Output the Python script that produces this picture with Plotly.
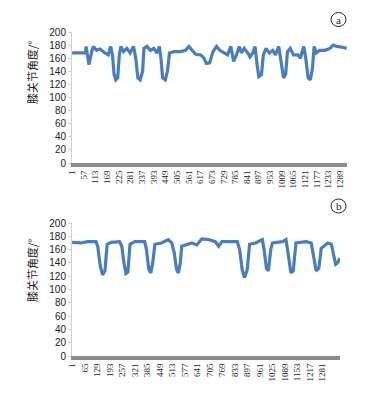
import plotly.graph_objects as go

# ---- data ----
a_x = [1, 65, 68, 82, 95, 103, 119, 135, 159, 175, 186, 195, 203, 211, 220, 228, 235, 248, 264, 280,
       296, 307, 317, 328, 340, 346, 361, 377, 393, 409, 420, 428, 436, 449, 459, 469, 490, 522, 546, 562,
       578, 595, 619, 635, 646, 662, 678, 695, 711, 732, 748, 764, 777, 791, 804, 815, 828, 845, 856, 869,
       880, 890, 898, 911, 920, 933, 949, 965, 978, 994, 1006, 1017, 1027, 1036, 1049, 1065, 1086, 1098,
       1114, 1124, 1135, 1146, 1156, 1164, 1175, 1191, 1215, 1240, 1256, 1272, 1296, 1320]
a_y = [168, 168, 178, 150, 170, 178, 172, 174, 168, 165, 178, 165, 135, 127, 130, 165, 178, 170, 175, 168,
       178, 160, 130, 127, 140, 175, 178, 172, 175, 168, 178, 160, 130, 127, 140, 168, 170, 170, 172, 178,
       172, 166, 165, 160, 152, 153, 170, 178, 172, 168, 165, 178, 155, 165, 178, 168, 175, 168, 162, 168,
       178, 150, 132, 135, 165, 175, 168, 172, 165, 178, 150, 130, 135, 170, 175, 165, 165, 160,
       178, 160, 130, 127, 145, 178, 168, 172, 172, 175, 180, 178, 177, 175]

b_x = [1, 46, 80, 123, 132, 145, 157, 169, 180, 200, 243, 255, 266, 276, 286, 297, 321, 372, 381, 393,
       403, 413, 424, 458, 492, 510, 523, 535, 544, 554, 561, 587, 613, 638, 664, 699, 733, 750, 767, 819,
       845, 857, 870, 882, 896, 908, 939, 973, 982, 994, 1004, 1016, 1025, 1076, 1094, 1107, 1119, 1131,
       1145, 1197, 1223, 1235, 1248, 1262, 1274, 1308, 1326, 1339, 1348, 1357, 1369]
b_y = [171, 170, 172, 172, 165, 135, 122, 128, 168, 171, 172, 165, 140, 124, 126, 168, 172, 172, 160, 130,
       125, 140, 168, 170, 175, 170, 155, 130, 125, 140, 165, 168, 170, 167, 176, 175, 172, 165, 172, 172,
       172, 160, 130, 118, 130, 168, 170, 175, 160, 132, 128, 160, 170, 172, 175, 150, 125, 128,
       170, 172, 170, 150, 128, 132, 162, 170, 168, 150, 138, 140, 147]

a_ticks = list(range(1, 1290, 56))
b_ticks = list(range(1, 1282, 64))
y_ticks = list(range(0, 201, 20))

ylabel = "膝关节角度/°"
LINE = "#4A7EBB"
OFF = 8            # default page body margin
W, H = 362, 381

fig = go.Figure()
fig.add_trace(go.Scatter(x=a_x, y=a_y, mode="lines", line=dict(color=LINE, width=3.2),
                         xaxis="x", yaxis="y", showlegend=False))
fig.add_trace(go.Scatter(x=b_x, y=b_y, mode="lines", line=dict(color=LINE, width=3.2),
                         xaxis="x2", yaxis="y2", showlegend=False))

def px_x(p):
    return (p - OFF) / W

def px_y(p):
    return 1 - (p - OFF) / H

xcommon = dict(tickangle=-90, tickfont=dict(family="Liberation Serif", size=9, color="#222"),
               showgrid=False, zeroline=False, showline=True, linecolor="#8C8C8C", linewidth=4,
               ticks="", fixedrange=True, automargin=False)
ycommon = dict(tickvals=y_ticks, range=[0, 200], tickfont=dict(family="Liberation Sans", size=10, color="#222"),
               showgrid=False, zeroline=False, showline=True, linecolor="#D0D0D0", linewidth=1,
               ticks="outside", ticklen=3, tickcolor="#D0D0D0", fixedrange=True, automargin=False)

fig.update_layout(
    template="none",
    width=W, height=H, margin=dict(l=0, r=0, t=0, b=0, autoexpand=False),
    paper_bgcolor="white", plot_bgcolor="white",
    xaxis=dict(domain=[px_x(72), px_x(347)], range=[0.5, 1322], tickvals=a_ticks, anchor="y", **xcommon),
    yaxis=dict(domain=[px_y(163), px_y(32)], anchor="x", **ycommon),
    xaxis2=dict(domain=[px_x(72), px_x(340)], range=[0.5, 1370], tickvals=b_ticks, anchor="y2", **xcommon),
    yaxis2=dict(domain=[px_y(356), px_y(223)], anchor="x2", **ycommon),
)

# y-axis titles
for yc in (73, 271):
    fig.add_annotation(x=px_x(32), y=px_y(yc), xref="paper", yref="paper", text=ylabel,
                       textangle=-90, showarrow=False, xanchor="center", yanchor="middle",
                       font=dict(family="Noto Sans CJK SC", size=11, color="#222"))

# circled panel labels
for lab, cy in (("a", 19.5), ("b", 206)):
    fig.add_shape(type="circle", xref="paper", yref="paper",
                  x0=px_x(331), x1=px_x(346), y0=px_y(cy + 7), y1=px_y(cy - 7),
                  line=dict(color="#222", width=1), fillcolor="rgba(0,0,0,0)")
    fig.add_annotation(x=px_x(338.5), y=px_y(cy), xref="paper", yref="paper", text=lab,
                       showarrow=False, xanchor="center", yanchor="middle",
                       font=dict(family="Liberation Serif", size=11, color="#222"))

fig.write_html("out.html")
